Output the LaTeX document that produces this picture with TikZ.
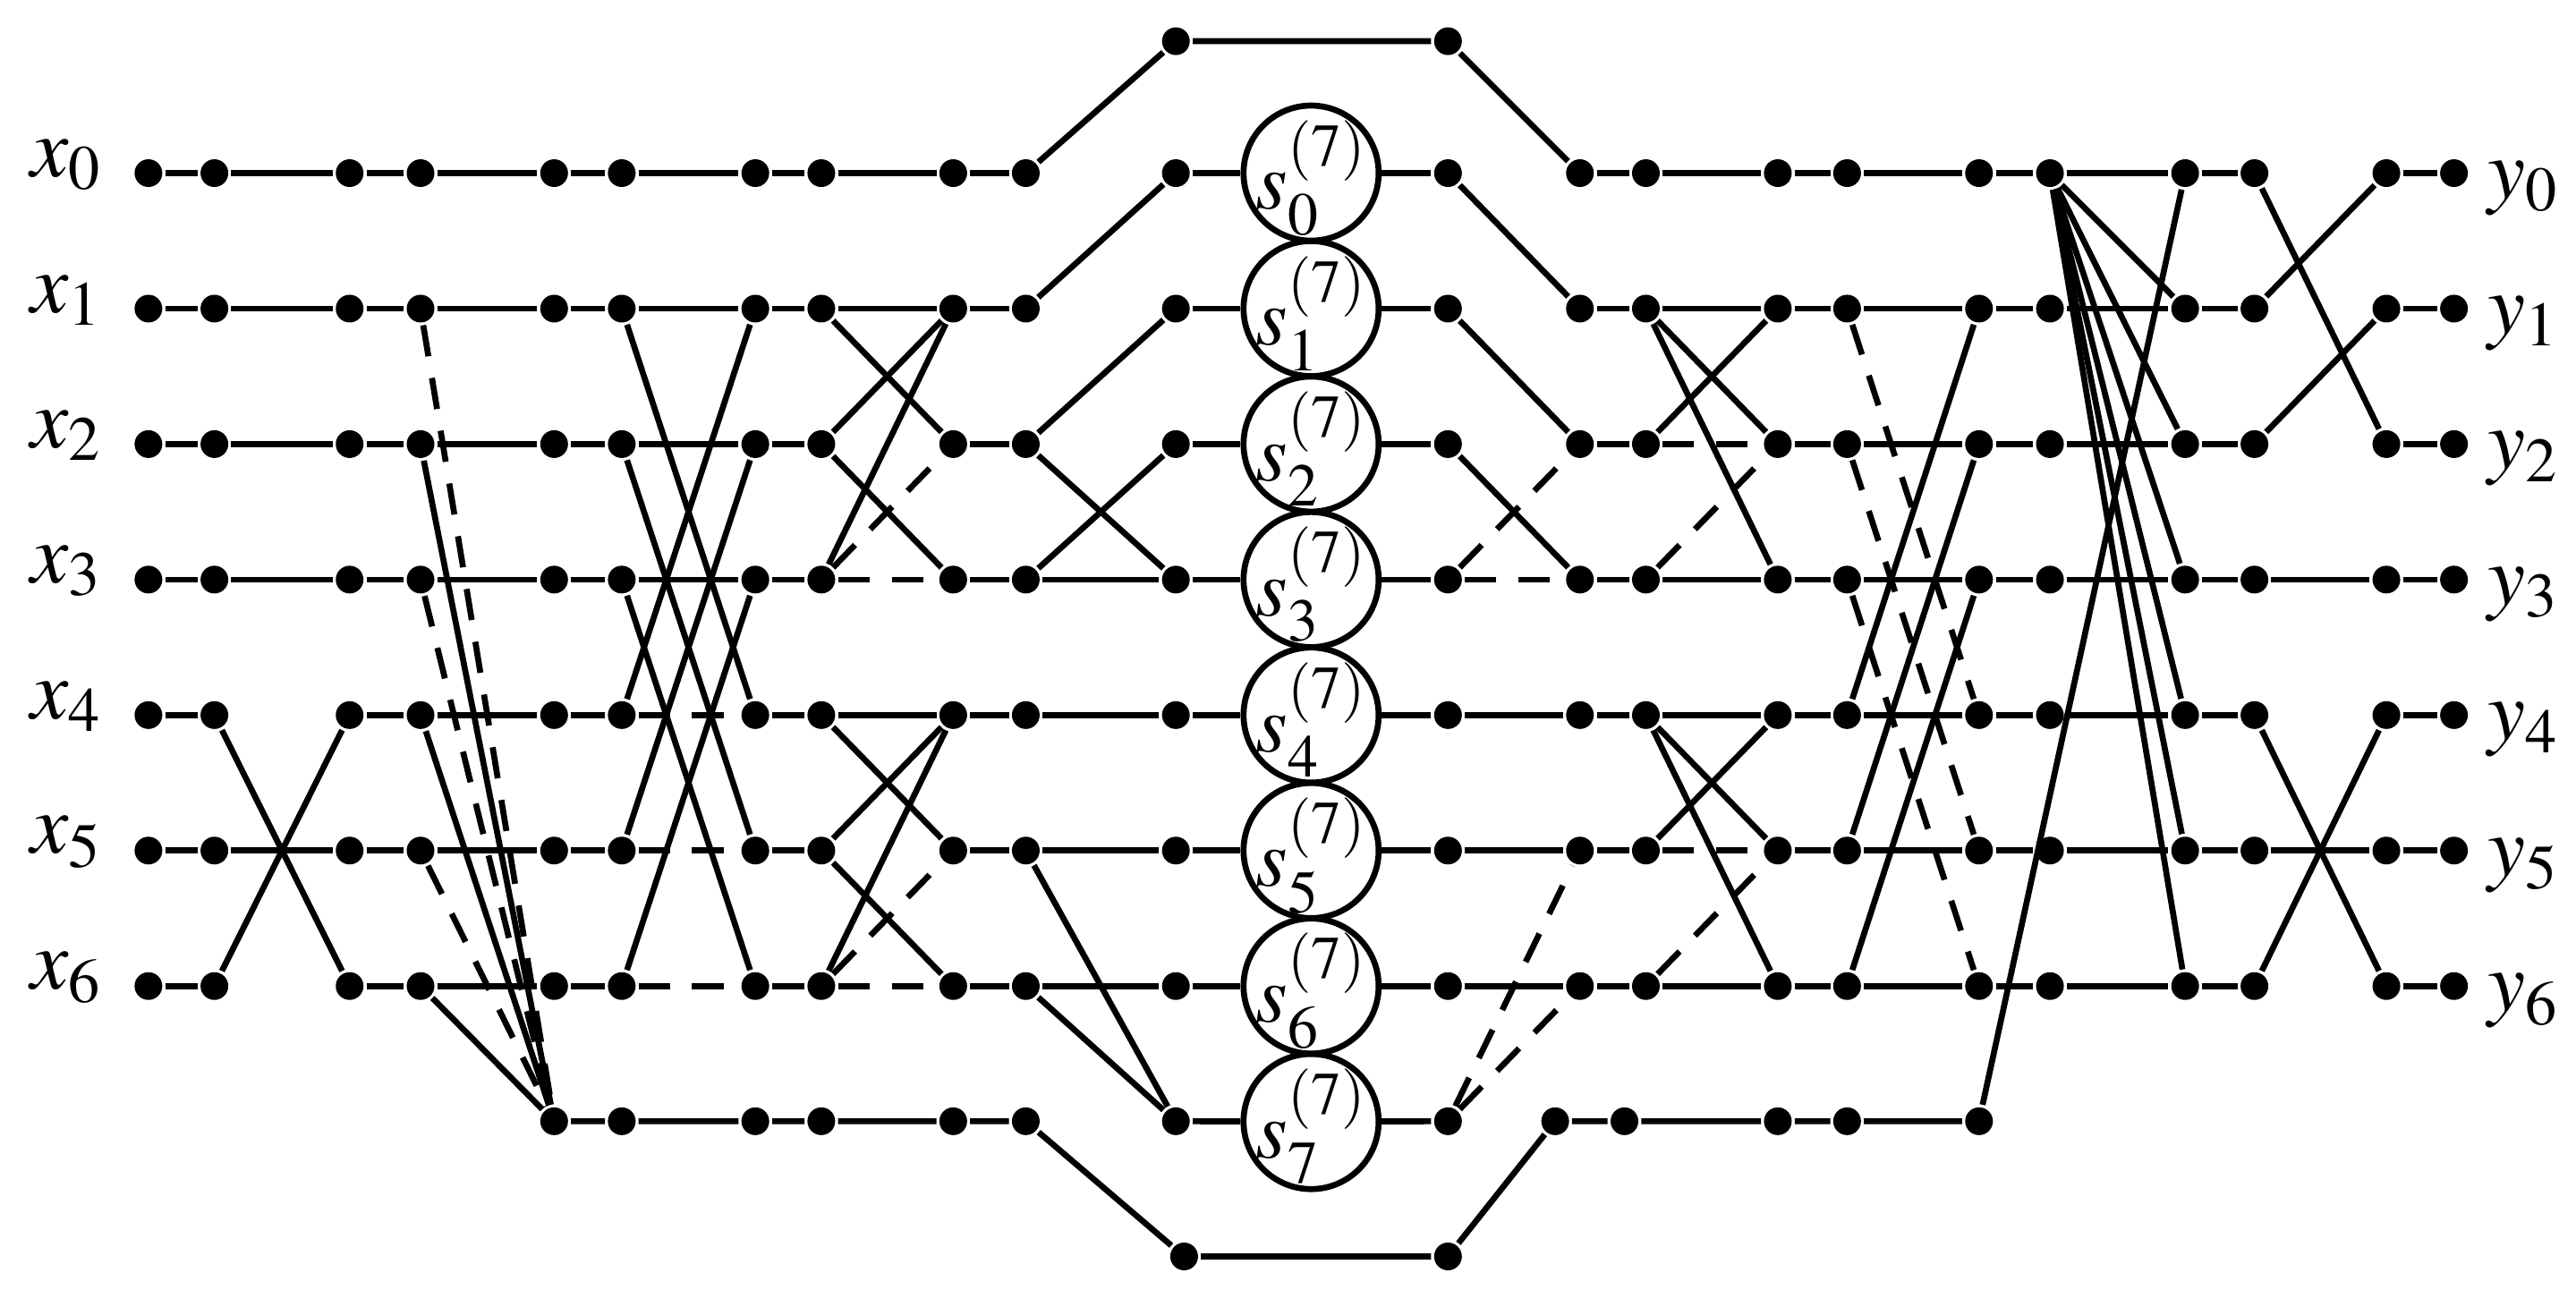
\documentclass[tikz,border=0pt]{standalone}
\usepackage{mathptmx}
\begin{document}
\begin{tikzpicture}[x=0.1843mm,y=-0.1843mm,line width=1.9pt,
  dot/.style={circle,fill=black,inner sep=0pt,minimum size=3.1mm},
  sbox/.style={circle,draw,line width=1.9pt,fill=white,inner sep=0pt,minimum size=15.1mm},
  stxt/.style={inner sep=0pt,font=\fontsize{26}{28}\selectfont},
  lab/.style={font=\fontsize{27}{29}\selectfont},
  dsh/.style={dash pattern=on 10pt off 7pt}]
\useasboundingbox (0,0) rectangle (1562,782);
% dots rows 0-6
\foreach \c/\x in {1/90,2/130,3/212,4/255,5/336,6/377,7/458,8/498,9/578,10/622,11/713,12/878,13/958,14/998,15/1078,16/1120,17/1200,18/1243,19/1325,20/1367,21/1447,22/1488}{
  \foreach \r in {0,...,6}{\node[dot] (d\c-\r) at (\x,{105+82.17*\r}) {};}}
\foreach \c/\x in {5/336,6/377,7/458,8/498,9/578,10/622,11/713,12/878,13/943,14/985,15/1078,16/1120,17/1200}{
  \node[dot] (d\c-7) at (\x,680) {};}
\node[dot] (tA) at (713,25) {};
\node[dot] (tB) at (878,25) {};
\node[dot] (bA) at (718,762) {};
\node[dot] (bB) at (878,762) {};
\foreach \r in {0,...,7}{\node[sbox] (s\r) at (795,{105+82.17*\r}) {};}
\foreach \r in {0,...,7}{\node[stxt] (st\r) at (795,{108+82.17*\r}) {$s_{\r}^{(7)}$};}
% labels
\foreach \r in {0,...,6}{
  \node[lab] (lx\r) at (40,{100+82.17*\r}) {$x_{\r}$};
  \node[lab] (ly\r) at (1530,{114+82.17*\r}) {$y_{\r}$};}
% horizontal solids
\foreach \a/\b/\rs in {1/2/{0,...,6},2/3/{0,1,2,3,5},3/4/{0,...,6},4/5/{0,...,6},5/6/{0,...,6},6/7/{0,1,2,3},7/8/{0,...,6},8/9/{0,1,4},9/10/{0,...,6},10/11/{3,4,5,6},12/13/{4,5,6},13/14/{0,...,6},14/15/{0,1,3,4,6},15/16/{0,...,6},16/17/{0,...,6},17/18/{0,...,6},18/19/{0,...,6},19/20/{0,...,6},20/21/{3,5},21/22/{0,...,6}}{
  \foreach \r in \rs {\draw (d\a-\r) -- (d\b-\r);}}
\foreach \a/\b/\rs in {6/7/{4,5,6},8/9/{3,6},12/13/{3},14/15/{2,5}}{
  \foreach \r in \rs {\draw[dsh] (d\a-\r) -- (d\b-\r);}}
\foreach \r in {0,...,7}{\draw (d11-\r) -- (s\r); \draw (s\r) -- (d12-\r);}
% row 7 chains
\draw (d5-7) -- (d6-7) -- (d7-7) -- (d8-7) -- (d9-7) -- (d10-7) -- (bA) -- (bB) -- (d13-7) -- (d14-7) -- (d15-7) -- (d16-7) -- (d17-7) -- (d19-0);
\draw (d10-0) -- (tA) -- (tB) -- (d13-0);
% left crossing
\draw (d2-4) -- (d3-6); \draw (d2-6) -- (d3-4);
\foreach \r in {1,3,5}{\draw[dsh] (d4-\r) -- (d5-7);}
\foreach \r in {2,4,6}{\draw (d4-\r) -- (d5-7);}
\foreach \a/\b in {1/4,2/5,3/6,4/1,5/2,6/3}{\draw (d6-\a) -- (d7-\b);}
\foreach \a/\b in {1/2,2/1,2/3,3/1,4/5,5/4,5/6,6/4}{\draw (d8-\a) -- (d9-\b);}
\draw[dsh] (d8-3) -- (d9-2); \draw[dsh] (d8-6) -- (d9-5);
\foreach \a/\b in {1/0,2/1,2/3,3/2,5/7,6/7}{\draw (d10-\a) -- (d11-\b);}
\foreach \a/\b in {0/1,1/2,2/3}{\draw (d12-\a) -- (d13-\b);}
\draw[dsh] (d12-3) -- (d13-2); \draw[dsh] (d12-7) -- (d13-5); \draw[dsh] (d12-7) -- (d13-6);
\foreach \a/\b in {1/2,1/3,2/1,4/5,4/6,5/4}{\draw (d14-\a) -- (d15-\b);}
\draw[dsh] (d14-3) -- (d15-2); \draw[dsh] (d14-6) -- (d15-5);
\foreach \a/\b in {1/4,2/5,3/6}{\draw[dsh] (d16-\a) -- (d17-\b);}
\foreach \a/\b in {4/1,5/2,6/3}{\draw (d16-\a) -- (d17-\b);}
\foreach \r in {1,...,6}{\draw (d18-0) -- (d19-\r);}
\foreach \a/\b in {0/2,1/0,2/1,4/6,6/4}{\draw (d20-\a) -- (d21-\b);}
\end{tikzpicture}
\end{document}
